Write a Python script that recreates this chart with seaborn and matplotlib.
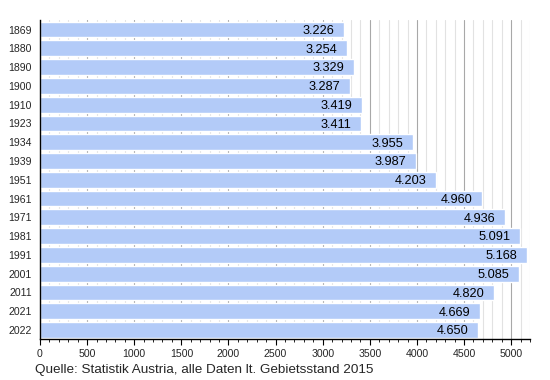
import matplotlib
matplotlib.use("Agg")
import matplotlib.pyplot as plt
import seaborn as sns
import pandas as pd
from matplotlib.ticker import MultipleLocator

# Bevölkerungsentwicklung (Werte in Tausend laut Grafik)
years = ["1869", "1880", "1890", "1900", "1910", "1923", "1934", "1939", "1951",
         "1961", "1971", "1981", "1991", "2001", "2011", "2021", "2022"]
values = [3226, 3254, 3329, 3287, 3419, 3411, 3955, 3987, 4203,
          4690, 4936, 5091, 5168, 5085, 4820, 4669, 4650]
# Beschriftungen wie im Original (1961 steht dort als 4.960)
labels = ["3.226", "3.254", "3.329", "3.287", "3.419", "3.411", "3.955", "3.987", "4.203",
          "4.960", "4.936", "5.091", "5.168", "5.085", "4.820", "4.669", "4.650"]

df = pd.DataFrame({"Jahr": years, "Wert": values})

sns.set_style("white")
plt.rcParams["font.family"] = ["Liberation Sans", "DejaVu Sans"]

fig = plt.figure(figsize=(5.5, 3.8), dpi=100)
ax = fig.add_axes([0.0727, 0.107, 0.891, 0.84])

sns.barplot(data=df, x="Wert", y="Jahr", order=years, orient="h",
            color="#b3cbf8", saturation=1, width=0.84, ax=ax, zorder=2)

for i, (v, lab) in enumerate(zip(values, labels)):
    ax.annotate(lab, xy=(v, i), xytext=(-7, -1), textcoords="offset points",
                ha="right", va="center", fontsize=9.2, color="black", zorder=3)

ax.set_xlim(0, 5200)
ax.set_ylim(len(years) - 0.5, -0.5)
ax.xaxis.set_major_locator(MultipleLocator(500))
ax.xaxis.set_minor_locator(MultipleLocator(100))
ax.grid(which="major", axis="x", color="#a8a8a8", linewidth=0.8, zorder=0)
ax.grid(which="minor", axis="x", color="#e2e2e2", linewidth=0.8, zorder=0)
ax.set_axisbelow(True)

ax.tick_params(axis="x", which="major", length=4, width=0.8, color="black",
               labelsize=7.6, pad=3, bottom=True)
ax.tick_params(axis="x", which="minor", length=2, width=0.6, color="black", bottom=True)
ax.tick_params(axis="y", length=0, labelsize=7.6, pad=6)

for s in ["top", "right"]:
    ax.spines[s].set_visible(False)
for s in ["left", "bottom"]:
    ax.spines[s].set_color("black")
    ax.spines[s].set_linewidth(1)

ax.set_xlabel("")
ax.set_ylabel("")

fig.text(0.064, 0.01, "Quelle: Statistik Austria, alle Daten lt. Gebietsstand 2015",
         fontsize=9.7, ha="left", va="bottom")

fig.savefig("out.png", dpi=100)
